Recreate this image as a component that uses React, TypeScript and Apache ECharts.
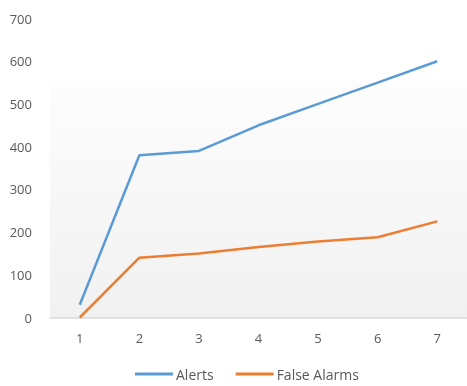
import React, { useEffect, useRef } from "react";
import * as echarts from "echarts";

const categories = ["1", "2", "3", "4", "5", "6", "7"];
const alerts = [30, 380, 390, 450, 500, 550, 600];
const falseAlarms = [0, 140, 150, 165, 178, 188, 225];
const seriesNames = ["Alerts", "False Alarms"];

export default function App() {
  const ref = useRef<HTMLDivElement>(null);
  useEffect(() => {
    if (!ref.current) return;
    const chart = echarts.init(ref.current, undefined, { renderer: "svg" });
    const font = "'Open Sans', 'Noto Sans', sans-serif";
    chart.setOption({
      animation: false,
      textStyle: { fontFamily: font },
      grid: {
        left: 50,
        top: 18.5,
        width: 421,
        bottom: 68.5,
        show: true,
        borderWidth: 0,
        backgroundColor: new echarts.graphic.LinearGradient(0, 0, 0, 1, [
          { offset: 0, color: "#ffffff" },
          { offset: 0.205, color: "#ffffff" },
          { offset: 0.21, color: "#fdfdfd" },
          { offset: 1, color: "#f1f1f1" },
        ]),
      },
      legend: {
        bottom: 0,
        left: 130,
        itemWidth: 38,
        itemHeight: 3,
        itemGap: 22,
        icon: "rect",
        textStyle: { color: "#595959", fontSize: 14, fontFamily: font, padding: [0, 0, 0, -2] },
        data: seriesNames,
      },
      xAxis: {
        type: "category",
        data: categories,
        boundaryGap: true,
        axisLine: { show: true, lineStyle: { color: "#d9d9d9", width: 1.5 } },
        axisTick: { show: false },
        axisLabel: { color: "#595959", fontSize: 13, margin: 14, fontFamily: font },
        splitLine: { show: false },
      },
      yAxis: {
        type: "value",
        min: 0,
        max: 700,
        interval: 100,
        axisLine: { show: false },
        axisTick: { show: false },
        splitLine: { show: false },
        axisLabel: { color: "#595959", fontSize: 13, margin: 18, fontFamily: font },
      },
      series: [
        {
          name: seriesNames[0],
          type: "line",
          data: alerts,
          symbol: "none",
          lineStyle: { color: "#5B9BD5", width: 2.5 },
          itemStyle: { color: "#5B9BD5" },
        },
        {
          name: seriesNames[1],
          type: "line",
          data: falseAlarms,
          symbol: "none",
          lineStyle: { color: "#ED7D31", width: 2.5 },
          itemStyle: { color: "#ED7D31" },
        },
      ],
    });
    return () => chart.dispose();
  }, []);
  return <div ref={ref} style={{ width: 467, height: 386, position: "fixed", left: 0, top: 0 }} />;
}
